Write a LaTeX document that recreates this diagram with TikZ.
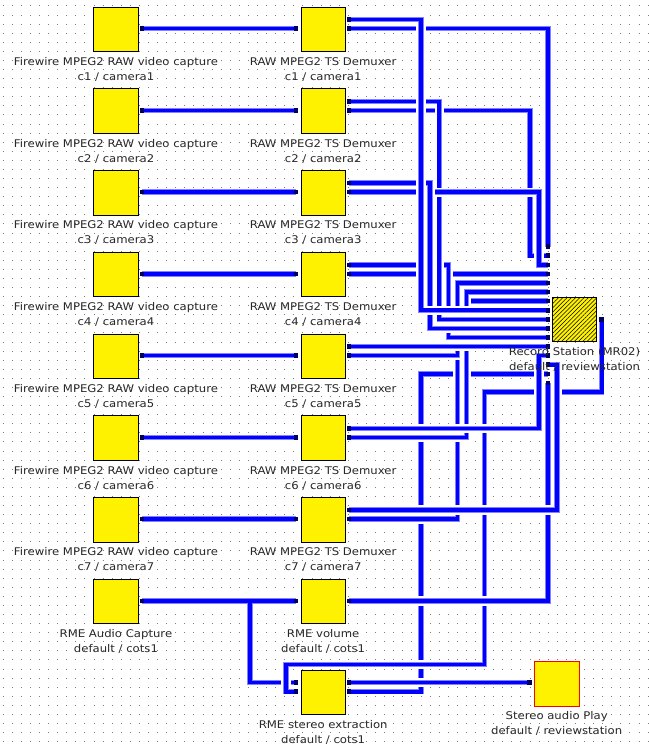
\documentclass[tikz,border=0pt]{standalone}
\usepackage{fontspec}
\newfontfamily\lblfont[FakeStretch=1.1]{DejaVu Sans}
\usetikzlibrary{patterns.meta}
\definecolor{wireblue}{RGB}{0,0,255}
\definecolor{wirehalo}{RGB}{130,130,255}
\definecolor{portblue}{RGB}{0,0,100}
\definecolor{txt}{RGB}{40,40,40}
\definecolor{dotgray}{RGB}{125,125,125}
\newcommand{\boxlabel}[3]{%
  \node[lbl] (#1l1) at ([yshift=-13.5pt]#1.south) {#2};
  \node[lbl] (#1l2) at ([yshift=-28.5pt]#1.south) {#3};}
\begin{document}
\begin{tikzpicture}[x=1pt,y=-9.083pt,yshift=-1.43pt,
  box/.style={draw=black, line width=0.8pt, fill=yellow, minimum width=44.5pt, minimum height=44.5pt, inner sep=0pt, anchor=north west},
  wire/.style={draw=wireblue, line width=3.6pt, preaction={draw=white, line width=9.3pt}, preaction={draw=wirehalo, line width=5.4pt}},
  port/.style={fill=portblue, minimum size=4.6pt, inner sep=0pt, draw=none},
  lbl/.style={font={\lblfont\fontsize{10.6pt}{12pt}\selectfont}, text=txt, anchor=base, inner sep=0pt}]
\useasboundingbox (0,-0.1574) rectangle (648,81.973);
\fill[white] (0,-0.1574) rectangle (648,81.973);
% dot grid
\foreach \j in {0,...,81}
  \draw[dotgray, line width=1pt, dash pattern=on 1pt off 8.083pt] (2.75,\j+0.5) -- (648,\j+0.5);
% boxes
\foreach \i in {1,...,7} {
  \pgfmathsetmacro\t{0.58+9*(\i-1)}
  \pgfmathsetmacro\pa{2+9*(\i-1)}
  \pgfmathsetmacro\pb{3+9*(\i-1)}
  \node[box] (c\i) at (93.3,\t) {};
  \node[box] (d\i) at (300.5,\t) {};
  \coordinate (co\i) at (142,\pb);
  \coordinate (di\i) at (296,\pb);
  \coordinate (da\i) at (349,\pa);
  \coordinate (db\i) at (349,\pb);
}
\node[box] (ac) at (93.3,63.58) {};
\node[box] (vol) at (300.5,63.58) {};
\node[box] (se) at (300.5,73.57) {};
\node[box, draw=red] (sp) at (534,72.62) {};
\node[box, fill=none, preaction={fill=yellow}, pattern={Lines[angle=45,distance=3pt,line width=0.55pt]}, pattern color=black] (rs) at (552,32.54) {};
% ports
\coordinate (aco) at (142,66);
\coordinate (vi) at (296,66);
\coordinate (vo) at (349,66);
\coordinate (si1) at (296,75);
\coordinate (si2) at (296,76);
\coordinate (so1) at (349,75);
\coordinate (so2) at (349,76);
\coordinate (pin) at (529.5,75);
\coordinate (rout) at (601.7,35);
\foreach \k in {0,...,15} \coordinate (r\k) at (548,27+\k);
% routing columns
\coordinate (xa) at (421,0);
\coordinate (xb) at (430.1,0);
\coordinate (xc) at (439.2,0);
\coordinate (xd) at (448.3,0);
\coordinate (xe) at (457.4,0);
\coordinate (xf) at (466.5,0);
\coordinate (xg) at (484.6,0);
\coordinate (xh) at (530,0);
\coordinate (xi) at (539,0);
\coordinate (xq) at (557,0);
\coordinate (xbr) at (250,0);
\coordinate (rb1) at (601.7,43);
\coordinate (rb2) at (484.6,73);
\coordinate (rb3) at (286,76);
% wires (order = stacking)
\draw[wire] (aco) -- (vi) (xbr |- aco) |- (si1);
\draw[wire] (so2) -| (xa |- r14) -- (r14);
\draw[wire] (so1) -- (pin);
\draw[wire] (rout) -- (rb1) -| (rb2) -| (rb3) -- (si2);
\draw[wire] (vo) -| (r15);
\draw[wire] (db7) -| (xe |- r6) -- (r6);
\draw[wire] (db5) -| (xe |- r4) -- (r4);
\draw[wire] (db6) -| (xf |- r5) -- (r5);
\draw[wire] (da7) -| (xq |- r13) -- (r13);
\draw[wire] (da6) -| (xi |- r12) -- (r12);
\draw[wire] (da5) -- (r11);
\draw[wire] (db2) -| (xh |- r1) -- (r1);
\draw[wire] (db4) -- (r3);
\draw[wire] (da4) -| (xd |- r10) -- (r10);
\draw[wire] (da2) -| (xc |- r8) -- (r8);
\draw[wire] (db3) -| (xi |- r2) -- (r2);
\draw[wire] (da3) -| (xb |- r9) -- (r9);
\draw[wire] (db1) -| (r0);
\draw[wire] (da1) -| (xa |- r7) -- (r7);
\foreach \i in {1,...,7} \draw[wire] (co\i) -- (di\i);
% port markers
\foreach \p in {co1,co2,co3,co4,co5,co6,co7,di1,di2,di3,di4,di5,di6,di7,da1,da2,da3,da4,da5,da6,da7,db1,db2,db3,db4,db5,db6,db7,aco,vi,vo,si1,si2,so1,so2,pin,rout,r0,r1,r2,r3,r4,r5,r6,r7,r8,r9,r10,r11,r12,r13,r14,r15}
  \node[port] (m-\p) at (\p) {};
% labels
\foreach \i in {1,...,7} {
  \boxlabel{c\i}{Firewire MPEG2 RAW video capture}{c\i{} / camera\i}
  \boxlabel{d\i}{RAW MPEG2 TS Demuxer}{c\i{} / camera\i}
}
\boxlabel{ac}{RME Audio Capture}{default / cots1}
\boxlabel{vol}{RME volume}{default / cots1}
\boxlabel{se}{RME stereo extraction}{default / cots1}
\boxlabel{rs}{Record Station (MR02)}{default / reviewstation}
\boxlabel{sp}{Stereo audio Play}{default / reviewstation}
\end{tikzpicture}
\end{document}
